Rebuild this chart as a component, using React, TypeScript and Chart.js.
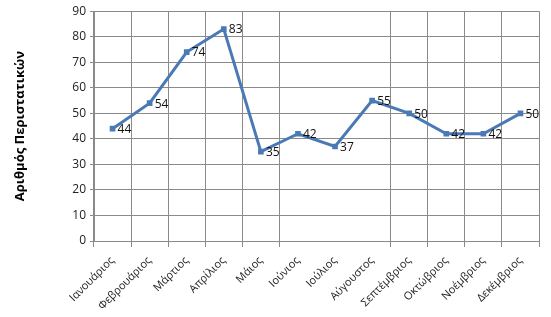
import React, { useEffect, useRef } from "react";
import { Chart, registerables } from "chart.js";

Chart.register(...registerables);

const months = [
  "Ιανουάριος", "Φεβρουάριος", "Μάρτιος", "Απρίλιος", "Μάιος", "Ιούνιος",
  "Ιούλιος", "Αύγουστος", "Σεπτέμβριος", "Οκτώβριος", "Νοέμβριος", "Δεκέμβριος",
];
const cases = [44, 54, 74, 83, 35, 42, 37, 55, 50, 42, 42, 50];
const yTitle = "Αριθμός Περιστατικών";
const yMin = 0;
const yMax = 90;
const yStep = 10;
const hiddenGridIdx = [6, 7];

const FONT = "'Open Sans', 'Noto Sans', sans-serif";
const LINE = "#4a7ab5";
const GRID = "#8a8a8a";

const labelPlugin = {
  id: "valueLabels",
  afterDatasetsDraw(chart: any) {
    const ctx = chart.ctx;
    const meta = chart.getDatasetMeta(0);
    ctx.save();
    ctx.font = `12px ${FONT}`;
    ctx.fillStyle = "#111";
    ctx.textAlign = "left";
    ctx.textBaseline = "middle";
    meta.data.forEach((pt: any, i: number) => {
      ctx.fillText(String(cases[i]), pt.x + 5, pt.y + 1);
    });
    ctx.restore();
  },
};

export default function App() {
  const ref = useRef<HTMLCanvasElement | null>(null);
  useEffect(() => {
    document.body.style.margin = "0";
    const chart = new Chart(ref.current as HTMLCanvasElement, {
      type: "line",
      data: {
        labels: months,
        datasets: [
          {
            data: cases,
            borderColor: LINE,
            backgroundColor: LINE,
            borderWidth: 3,
            pointStyle: "rect",
            pointRadius: 4,
            pointBorderWidth: 0,
            tension: 0,
          },
        ],
      },
      options: {
        animation: false,
        responsive: false,
        layout: { padding: { top: 11, right: 12, left: 0, bottom: 0 } },
        plugins: { legend: { display: false }, tooltip: { enabled: false } },
        scales: {
          x: {
            offset: true,
            grid: {
              offset: true,
              color: (c: any) => (hiddenGridIdx.includes(c.index) ? "rgba(0,0,0,0)" : GRID),
              tickLength: 6,
              lineWidth: 1,
            },
            border: { color: GRID },
            ticks: {
              minRotation: 45,
              maxRotation: 45,
              color: "#222",
              font: { family: FONT, size: 11 },
              padding: 7,
            },
            afterFit: (s: any) => {
              s.height = 76;
            },
          },
          y: {
            min: yMin,
            max: yMax,
            ticks: {
              stepSize: yStep,
              color: "#222",
              font: { family: FONT, size: 12 },
              padding: 4,
            },
            grid: { color: GRID, tickLength: 4 },
            border: { color: GRID },
            title: {
              display: true,
              text: yTitle,
              color: "#000",
              font: { family: FONT, size: 13, weight: "bold" },
              padding: { top: 12, bottom: 0 },
            },
            afterFit: (s: any) => {
              s.width = 94;
            },
          },
        },
      },
      plugins: [labelPlugin],
    });
    return () => chart.destroy();
  }, []);
  return (
    <div style={{ position: "absolute", left: 0, top: 0, width: 551, height: 317, background: "#fff" }}>
      <canvas ref={ref} width={551} height={317} />
    </div>
  );
}
